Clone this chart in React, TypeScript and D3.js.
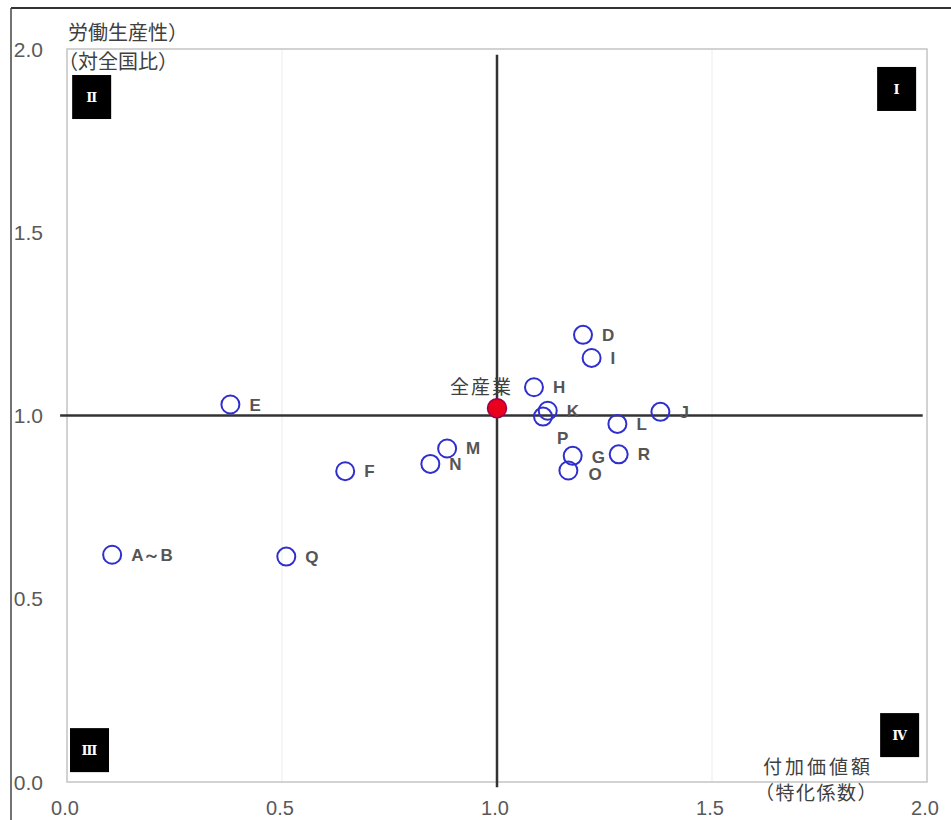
import React from "react";
import * as d3 from "d3";

// ---- data ----
const industries = ["A～B", "Q", "E", "F", "N", "M", "H", "K", "P", "D", "I", "L", "J", "G", "O", "R"];
const specialization = [0.105, 0.51, 0.38, 0.647, 0.845, 0.884, 1.086, 1.118, 1.107, 1.2, 1.22, 1.28, 1.38, 1.176, 1.166, 1.283];
const productivity = [0.62, 0.615, 1.03, 0.848, 0.868, 0.91, 1.077, 1.013, 0.997, 1.22, 1.157, 0.977, 1.01, 0.89, 0.85, 0.894];

const totalLabel = "全産業";
const totalX = [1.0];
const totalY = [1.02];

const xTicks = [0, 0.5, 1.0, 1.5, 2.0];
const yTicks = [0, 0.5, 1.0, 1.5, 2.0];
const gridX = [0.5, 1.5];

const quadrantNames = ["Ⅰ", "Ⅱ", "Ⅲ", "Ⅳ"];
const quadrantAnchorX = [1.884, 0.012, 0.007, 1.891];
const quadrantAnchorY = [1.951, 1.929, 0.147, 0.188];

const yTitle = ["労働生産性）", "（対全国比）"];
const xTitle = ["付加価値額", "（特化係数）"];

// label nudges (px)
const labelNudge: Record<string, [number, number]> = { P: [14, 21], G: [19, 1], O: [20, 4] };

const W = 951;
const H = 820;
const plot = { left: 67, right: 927, top: 49, bottom: 782 };

export default function App() {
  const x = d3.scaleLinear().domain([0, 2]).range([plot.left, plot.right]);
  const y = d3.scaleLinear().domain([0, 2]).range([plot.bottom, plot.top]);
  const fmt = d3.format(".1f");

  const tickColor = "#595959";
  const blue = "#2f2fcf";
  const labelFont = "'Liberation Sans', Arial, sans-serif";
  const cjkFont = "'Noto Sans CJK JP', sans-serif";

  return (
    <svg
      width={W}
      height={H}
      style={{ position: "absolute", left: 0, top: 0, background: "#fff" }}
    >
      <defs>
        <clipPath id="frameClip">
          <rect x={11} y={8} width={W} height={H} />
        </clipPath>
      </defs>
      <rect x={0} y={0} width={W} height={H} fill="#fff" />

      {/* gridlines */}
      {gridX.map((g) => (
        <line key={"gx" + g} x1={x(g)} x2={x(g)} y1={plot.top} y2={plot.bottom} stroke="#ececec" strokeWidth={1} />
      ))}

      {/* plot border */}
      <rect
        x={plot.left}
        y={plot.top}
        width={plot.right - plot.left}
        height={plot.bottom - plot.top}
        fill="none"
        stroke="#c4c4c4"
        strokeWidth={1.5}
      />

      {/* quadrant axes */}
      <line x1={x(-0.016)} x2={x(1.99)} y1={y(1)} y2={y(1)} stroke="#333" strokeWidth={2.5} />
      <line x1={x(1)} x2={x(1)} y1={y(1.984)} y2={y(-0.014)} stroke="#333" strokeWidth={2.5} />

      {/* tick labels */}
      <g clipPath="url(#frameClip)">
        {yTicks.map((t) => (
          <text
            key={"yt" + t}
            x={43}
            y={y(t) + 7.5}
            textAnchor="end"
            fontSize={21}
            fontFamily={labelFont}
            fill={tickColor}
          >
            {fmt(t)}
          </text>
        ))}
      </g>
      {xTicks.map((t) => (
        <text
          key={"xt" + t}
          x={x(t) - 2}
          y={815}
          textAnchor="middle"
          fontSize={20}
          fontFamily={labelFont}
          fill={tickColor}
        >
          {fmt(t)}
        </text>
      ))}

      {/* quadrant boxes */}
      {quadrantNames.map((q, i) => (
        <g key={q}>
          <rect x={x(quadrantAnchorX[i])} y={y(quadrantAnchorY[i])} width={39} height={44} fill="#000" />
          <text
            x={x(quadrantAnchorX[i]) + 19.5}
            y={y(quadrantAnchorY[i]) + 27}
            textAnchor="middle"
            fontSize={13}
            fontWeight="bold"
            fontFamily="'DejaVu Serif', 'Liberation Serif', serif"
            fill="#fff"
          >
            {q}
          </text>
        </g>
      ))}

      {/* axis titles */}
      <text x={68} y={40} fontSize={20} fontFamily={cjkFont} fill="#404040">
        {yTitle[0]}
      </text>
      <text x={58} y={69} fontSize={20} fontFamily={cjkFont} fill="#404040">
        {yTitle[1]}
      </text>
      <text x={763} y={774} fontSize={19} letterSpacing={3} fontFamily={cjkFont} fill="#404040">
        {xTitle[0]}
      </text>
      <text x={755} y={800} fontSize={19} letterSpacing={1.5} fontFamily={cjkFont} fill="#404040">
        {xTitle[1]}
      </text>

      {/* industry points */}
      {industries.map((name, i) => (
        <circle
          key={"c" + name}
          cx={x(specialization[i])}
          cy={y(productivity[i])}
          r={9}
          fill="none"
          stroke={blue}
          strokeWidth={2}
        />
      ))}
      {industries.map((name, i) => {
        const [dx, dy] = labelNudge[name] ?? [19, 0];
        return (
          <text
            key={"l" + name}
            x={x(specialization[i]) + dx}
            y={y(productivity[i]) + dy + 6}
            fontSize={17}
            fontWeight="bold"
            fontFamily={labelFont}
            fill="#555"
          >
            {name}
          </text>
        );
      })}

      {/* total */}
      {totalX.map((tx, i) => (
        <g key="total">
          <circle cx={x(tx)} cy={y(totalY[i])} r={9.5} fill="#e8001c" stroke="#9a0050" strokeWidth={1.5} />
          <text
            x={x(tx) + 16}
            y={y(totalY[i]) - 14}
            textAnchor="end"
            fontSize={19}
            letterSpacing={2}
            fontFamily={cjkFont}
            fill="#404040"
          >
            {totalLabel}
          </text>
        </g>
      ))}

      {/* outer frame */}
      <line x1={11} x2={W} y1={8} y2={8} stroke="#333" strokeWidth={2} />
      <line x1={11} x2={11} y1={8} y2={H} stroke="#444" strokeWidth={1.5} />
    </svg>
  );
}
